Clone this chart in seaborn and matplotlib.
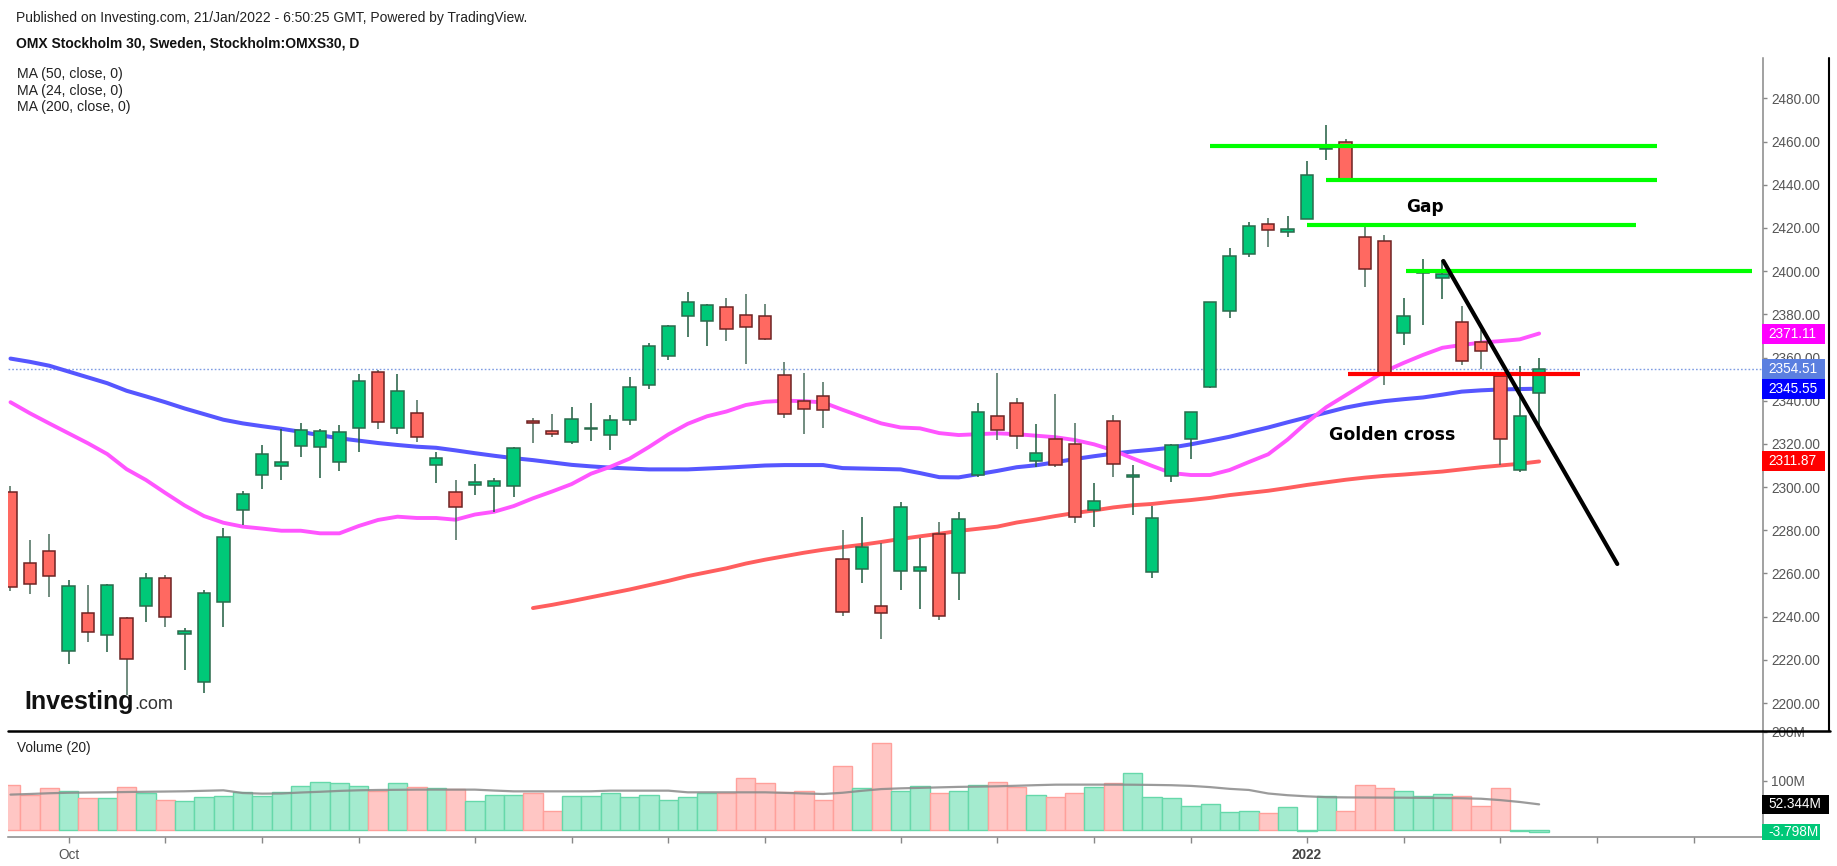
import numpy as np
import matplotlib
matplotlib.use("Agg")
import matplotlib.pyplot as plt
import seaborn as sns
from matplotlib.transforms import blended_transform_factory
from matplotlib.patches import Rectangle
from matplotlib.lines import Line2D

# OMXS30 daily candles, 80 sessions (late Sep 2021 .. 20 Jan 2022)
opens = [2297.7, 2264.7, 2270.6, 2224.0, 2241.6, 2231.7, 2239.3, 2245.0, 2257.8, 2232.1,
         2209.6, 2246.7, 2289.4, 2305.8, 2309.8, 2319.0, 2318.4, 2311.5, 2327.2, 2353.3,
         2327.2, 2334.2, 2310.2, 2297.7, 2300.9, 2300.4, 2300.4, 2330.8, 2326.1, 2320.7,
         2326.8, 2324.3, 2331.1, 2347.3, 2360.7, 2379.2, 2376.9, 2383.2, 2379.8, 2379.2,
         2352.0, 2339.9, 2342.3, 2266.7, 2262.2, 2244.9, 2261.1, 2261.1, 2278.4, 2260.1,
         2305.6, 2332.9, 2338.8, 2312.1, 2322.1, 2319.8, 2289.4, 2330.6, 2304.5, 2260.5,
         2305.1, 2322.4, 2346.2, 2381.5, 2408.1, 2421.9, 2417.9, 2424.3, 2456.3, 2459.6,
         2415.8, 2413.9, 2371.2, 2399.3, 2396.6, 2376.4, 2367.0, 2351.6, 2307.9, 2343.4]
highs = [2300.5, 2275.5, 2278.3, 2256.8, 2254.5, 2255.1, 2240.0, 2260.1, 2259.2, 2234.6,
         2252.2, 2280.9, 2298.4, 2319.5, 2326.7, 2329.5, 2326.7, 2328.6, 2352.4, 2354.2,
         2352.4, 2340.2, 2316.4, 2303.3, 2310.7, 2304.0, 2318.5, 2331.8, 2333.9, 2337.2,
         2338.8, 2333.2, 2351.1, 2366.6, 2375.0, 2390.5, 2384.8, 2387.6, 2389.4, 2384.8,
         2358.1, 2352.7, 2348.8, 2280.1, 2286.3, 2274.0, 2293.3, 2276.3, 2284.0, 2288.6,
         2338.8, 2352.7, 2341.1, 2329.0, 2343.1, 2329.5, 2301.7, 2333.4, 2310.1, 2291.4,
         2319.8, 2334.9, 2385.8, 2410.5, 2422.7, 2424.4, 2425.7, 2451.1, 2467.5, 2461.0,
         2420.6, 2416.7, 2387.4, 2405.4, 2405.1, 2384.0, 2372.7, 2353.0, 2356.1, 2359.9]
lows = [2252.0, 2250.5, 2249.3, 2218.1, 2228.4, 2223.8, 2203.7, 2237.7, 2235.0, 2215.3,
        2204.8, 2235.4, 2282.5, 2299.1, 2303.1, 2314.1, 2304.4, 2307.6, 2316.4, 2326.9,
        2324.6, 2321.0, 2302.0, 2275.5, 2296.4, 2288.6, 2295.6, 2320.6, 2323.0, 2320.0,
        2321.5, 2317.2, 2328.6, 2345.4, 2358.8, 2369.3, 2365.2, 2367.5, 2357.0, 2368.0,
        2332.1, 2324.6, 2327.5, 2240.5, 2255.7, 2229.7, 2252.3, 2243.6, 2238.5, 2247.7,
        2304.8, 2321.8, 2317.6, 2309.2, 2309.4, 2283.5, 2281.4, 2304.8, 2286.9, 2258.1,
        2302.5, 2313.0, 2346.0, 2378.4, 2406.7, 2411.3, 2415.6, 2424.0, 2451.4, 2442.0,
        2392.5, 2347.3, 2365.8, 2374.9, 2387.1, 2356.5, 2354.5, 2310.1, 2307.1, 2328.0]
closes = [2253.6, 2255.3, 2258.7, 2254.4, 2232.8, 2254.8, 2220.6, 2257.8, 2239.7, 2233.4,
          2250.8, 2276.8, 2296.7, 2315.2, 2311.8, 2326.4, 2325.9, 2325.4, 2349.3, 2330.0,
          2344.6, 2323.0, 2313.3, 2290.6, 2302.2, 2303.0, 2317.9, 2329.8, 2324.7, 2331.7,
          2327.3, 2331.2, 2346.2, 2365.3, 2374.6, 2385.5, 2384.5, 2373.4, 2374.0, 2368.7,
          2334.0, 2336.3, 2335.7, 2242.0, 2272.1, 2241.5, 2290.8, 2262.8, 2240.3, 2285.4,
          2334.6, 2326.4, 2323.6, 2315.6, 2310.2, 2286.1, 2293.6, 2310.8, 2305.7, 2285.5,
          2319.5, 2334.6, 2385.5, 2407.1, 2420.9, 2419.2, 2419.6, 2444.6, 2456.8, 2442.6,
          2401.1, 2352.7, 2379.4, 2399.7, 2398.5, 2358.4, 2362.8, 2322.4, 2332.9, 2354.51]

# volume in millions
volumes = [92.6, 72.2, 85.1, 80.3, 64.7, 64.7, 87.1, 74.9, 61.9, 59.2,
           66.7, 68.7, 76.9, 68.7, 76.9, 89.2, 97.3, 95.3, 89.2, 78.9,
           95.3, 87.1, 85.1, 83.0, 59.2, 71.5, 71.5, 74.9, 38.8, 68.7,
           68.7, 74.9, 66.7, 71.5, 61.9, 66.7, 74.9, 74.9, 105.5, 95.3,
           76.9, 79.6, 61.9, 130.0, 85.1, 176.9, 78.9, 89.2, 74.9, 79.6,
           92.6, 97.3, 87.8, 72.2, 66.7, 74.9, 87.1, 95.3, 115.7, 66.7,
           64.7, 49.0, 53.8, 36.1, 39.5, 34.1, 46.3, -1.5, 69.4, 39.5,
           92.6, 85.1, 79.6, 69.4, 72.8, 69.4, 49.0, 85.1, -3.0, -3.798]
vol_ma20 = [72.2, 73.5, 75.0, 76.0, 76.5, 76.9, 77.5, 78.0, 78.5, 79.0,
            80.0, 81.0, 75.5, 74.2, 74.5, 76.5, 78.0, 79.8, 81.0, 81.7,
            82.0, 82.4, 82.4, 82.4, 82.4, 80.5, 78.9, 78.9, 78.9, 78.9,
            79.0, 80.3, 80.3, 80.3, 80.3, 76.9, 76.9, 76.9, 76.9, 76.9,
            75.8, 74.6, 73.5, 76.0, 80.0, 83.5, 85.0, 86.0, 87.0, 88.0,
            88.5, 89.2, 90.3, 91.5, 92.5, 92.6, 92.6, 92.6, 92.4, 92.0,
            91.4, 90.0, 87.5, 84.0, 81.7, 74.5, 71.0, 68.7, 67.0, 66.5,
            66.3, 66.1, 65.9, 65.6, 65.3, 64.8, 63.8, 61.0, 57.2, 52.344]

ma50 = [2359.5, 2358.0, 2356.2, 2353.5, 2350.8, 2348.1, 2344.6, 2342.0, 2339.3, 2336.4,
        2333.8, 2331.2, 2329.5, 2328.2, 2327.0, 2325.6, 2324.0, 2322.6, 2321.5, 2320.4,
        2319.5, 2318.7, 2318.2, 2317.0, 2315.7, 2314.5, 2313.4, 2312.5, 2311.4, 2310.3,
        2309.6, 2309.0, 2308.6, 2308.2, 2308.2, 2308.2, 2308.6, 2309.0, 2309.5, 2310.0,
        2310.2, 2310.2, 2310.2, 2308.8, 2308.6, 2308.4, 2308.2, 2306.5, 2304.6, 2304.5,
        2306.0, 2307.5, 2309.2, 2310.1, 2311.5, 2313.0, 2314.3, 2315.5, 2316.5, 2317.3,
        2318.3, 2319.8, 2321.5, 2323.3, 2325.5, 2327.6, 2330.0, 2332.3, 2334.5, 2336.8,
        2338.5, 2339.8, 2340.7, 2341.5, 2342.8, 2344.2, 2344.8, 2345.2, 2345.4, 2345.55]
ma24 = [2339.3, 2334.2, 2329.5, 2324.9, 2320.3, 2315.3, 2308.3, 2303.3, 2297.3, 2291.5,
        2286.6, 2283.5, 2281.7, 2280.8, 2279.8, 2279.8, 2278.6, 2278.6, 2282.0, 2284.8,
        2286.3, 2285.7, 2285.7, 2284.9, 2287.3, 2288.6, 2291.2, 2294.8, 2298.0, 2301.4,
        2306.2, 2309.4, 2313.2, 2318.6, 2324.4, 2329.3, 2332.8, 2335.0, 2338.0, 2339.5,
        2340.0, 2339.8, 2339.2, 2335.8, 2332.6, 2329.5, 2327.6, 2327.2, 2325.0, 2324.1,
        2324.5, 2324.9, 2324.5, 2323.8, 2323.1, 2321.8, 2319.8, 2317.0, 2313.3, 2309.8,
        2306.5, 2305.6, 2305.6, 2307.9, 2311.6, 2315.2, 2322.0, 2330.0, 2337.0, 2342.5,
        2348.0, 2353.5, 2357.5, 2361.2, 2364.5, 2365.8, 2366.9, 2367.6, 2368.4, 2371.11]
ma200_start = 27
ma200 = [2244.0, 2245.5, 2247.2, 2249.0, 2250.8, 2252.6, 2254.6, 2256.6, 2258.8, 2260.6,
         2262.4, 2264.6, 2266.4, 2268.0, 2269.6, 2271.0, 2272.2, 2273.3, 2274.6, 2276.0,
         2277.2, 2278.4, 2279.7, 2280.7, 2281.7, 2283.6, 2285.0, 2286.6, 2288.0, 2289.2,
         2290.6, 2291.6, 2292.2, 2293.2, 2294.0, 2295.0, 2296.3, 2297.3, 2298.3, 2299.6,
         2301.0, 2302.2, 2303.4, 2304.4, 2305.2, 2305.8, 2306.5, 2307.2, 2308.2, 2309.2,
         2310.0, 2310.8, 2311.87]

# x axis ticks (session index) and the two labelled ones
tick_sessions = [3, 8, 13, 18, 24, 29, 34, 39, 46, 51, 56, 61, 67, 72, 77, 82, 87]
tick_names = {3: "Oct", 67: "2022"}

# hand drawn levels: (from session, to session, price)
gap_lines = [(62.0, 85.1, 2457.7), (68.0, 85.1, 2442.1), (67.0, 84.0, 2421.2), (72.1, 90.0, 2399.9)]
support_line = (69.1, 81.1, 2352.3)
trend_line = ((74.05, 2404.7), (83.04, 2264.4))

W, H = 1837, 866
sns.set_theme(style="white")
plt.rcParams["font.family"] = ["Liberation Sans", "DejaVu Sans"]

fig = plt.figure(figsize=(W / 100, H / 100), dpi=100, facecolor="white")


def fx(px):
    return px / W


def fy(py):
    return 1 - py / H


left, right = 8, 1763
ax = fig.add_axes([fx(left), fy(730.7), fx(right - left), (730.7 - 58) / H])
axv = fig.add_axes([fx(left), fy(837), fx(right - left), (837 - 730.7) / H])

idx = np.arange(len(closes))
o = np.array(opens)
c = np.array(closes)
hi = np.array(highs)
lo = np.array(lows)
up = c >= o

# moving averages
sns.lineplot(x=idx, y=ma50, ax=ax, color="#5656ff", lw=2.9, zorder=2)
sns.lineplot(x=idx, y=ma24, ax=ax, color="#ff55ff", lw=2.8, zorder=2)
sns.lineplot(x=idx[ma200_start:], y=ma200, ax=ax, color="#ff5e5e", lw=2.8, zorder=2)

ax.axhline(closes[-1], color="#7f9de3", lw=1.0, ls=(0, (1.2, 1.5)), zorder=1.5)

# candles
wick_col = np.where(up, "#1f5c40", "#4a6d5d")
ax.vlines(idx, lo, hi, colors=wick_col, lw=1.1, zorder=3)
body_h = np.maximum(np.abs(c - o), 0.7)
ax.bar(idx, body_h, bottom=np.minimum(o, c), width=0.64,
       color=np.where(up, "#00c878", "#ff6961"),
       edgecolor=np.where(up, "#2a6b4c", "#6e2323"), lw=1.1, zorder=4)

# drawings
for x0, x1, lvl in gap_lines:
    ax.plot([x0, x1], [lvl, lvl], color="#00ff00", lw=3.0, solid_capstyle="butt", zorder=6)
ax.plot(support_line[:2], [support_line[2]] * 2, color="#ff0000", lw=3.0,
        solid_capstyle="butt", zorder=6)
(tx0, ty0), (tx1, ty1) = trend_line
ax.plot([tx0, tx1], [ty0, ty1], color="black", lw=3.0, zorder=7)

ax.text(73.1, 2429.8, "Gap", ha="center", va="center", fontsize=12.2,
        fontweight="bold", family="DejaVu Sans", color="black", zorder=8)
ax.text(71.4, 2324.1, "Golden cross", ha="center", va="center", fontsize=12.5,
        fontweight="bold", family="DejaVu Sans", color="black", zorder=8)

ax.set_xlim(-0.129, 90.57)
ax.set_ylim(2187.22, 2498.66)
ax.set_xticks([])
ax.set_xlabel("")
ax.set_ylabel("")
ax.yaxis.tick_right()
ax.set_yticks(np.arange(2200, 2481, 20))
ax.yaxis.set_major_formatter(matplotlib.ticker.FormatStrFormatter("%.2f"))
ax.tick_params(axis="y", length=3, width=1, color="#888888", labelcolor="#555555",
               labelsize=9.8, pad=3)
for s in ["top", "left", "bottom"]:
    ax.spines[s].set_visible(False)
ax.spines["right"].set_color("#888888")
ax.spines["right"].set_linewidth(1.1)

# volume
vcol = np.where(up, "#a4ebcf", "#ffc6c4")
vedge = np.where(up, "#66d8aa", "#ffa09b")
axv.bar(idx, volumes, width=1.0, color=vcol, edgecolor=vedge, lw=1.0, zorder=2)
sns.lineplot(x=idx, y=vol_ma20, ax=axv, color="#8a8a8a", lw=1.6, alpha=0.85, zorder=3)
axv.set_xlim(-0.129, 90.57)
axv.set_ylim(-14.29, 202.65)
axv.set_xlabel("")
axv.set_ylabel("")
axv.yaxis.tick_right()
axv.set_yticks([100, 200])
axv.set_yticklabels(["100M", "200M"])
axv.tick_params(axis="y", length=3, width=1, color="#888888", labelcolor="#555555",
                labelsize=9.8, pad=3)
axv.set_xticks(tick_sessions)
axv.set_xticklabels([tick_names.get(t, "") for t in tick_sessions])
axv.tick_params(axis="x", length=4, width=1, color="#888888", labelcolor="#555555",
                labelsize=9.8, pad=4, bottom=True)
for lab in axv.get_xticklabels():
    if lab.get_text() == "2022":
        lab.set_fontweight("bold")
        lab.set_color("#444444")
for s in ["top", "left"]:
    axv.spines[s].set_visible(False)
for s in ["right", "bottom"]:
    axv.spines[s].set_color("#888888")
    axv.spines[s].set_linewidth(1.1)


# value tags on the right scale
def tag(axis, value, text, face, h_px, w_px=63):
    tr = blended_transform_factory(axis.transAxes, axis.transData)
    unit = (axis.get_ylim()[1] - axis.get_ylim()[0]) / (axis.bbox.height)
    axw = axis.bbox.width
    axis.add_patch(Rectangle((1.0 - 1 / axw, value - h_px / 2 * unit), w_px / axw, h_px * unit,
                             transform=tr, facecolor=face, edgecolor="none",
                             clip_on=False, zorder=9))
    axis.text(1.0 + 5 / axw, value, text, transform=tr, ha="left", va="center",
              color="white", fontsize=9.8, zorder=10, clip_on=False)


tag(ax, ma24[-1], "%.2f" % ma24[-1], "#ff00ff", 20)
tag(ax, closes[-1], "%.2f" % closes[-1], "#5b7fe0", 20)
tag(ax, ma50[-1], "%.2f" % ma50[-1], "#0000ff", 20)
tag(ax, ma200[-1], "%.2f" % ma200[-1], "#ff0000", 20)
tag(axv, vol_ma20[-1], "%.3fM" % vol_ma20[-1], "black", 19, 67)
tag(axv, volumes[-1], "%.3fM" % volumes[-1], "#00c878", 16, 58)

# frame lines
fig.add_artist(Line2D([fx(8), fx(1830)], [fy(730.7), fy(730.7)], color="black", lw=1.8))
fig.add_artist(Line2D([fx(1829), fx(1829)], [fy(58), fy(730.7)], color="black", lw=1.5))

# header and legend text
fig.text(fx(16), fy(18), "Published on Investing.com, 21/Jan/2022 - 6:50:25 GMT, Powered by TradingView.",
         fontsize=10.0, color="#222222", va="center")
fig.text(fx(16), fy(43), "OMX Stockholm 30, Sweden, Stockholm:OMXS30, D",
         fontsize=10.0, fontweight="bold", color="#111111", va="center")
for i, lbl in enumerate(["MA (50, close, 0)", "MA (24, close, 0)", "MA (200, close, 0)"]):
    fig.text(fx(17), fy(74 + 16.7 * i), lbl, fontsize=10.2, color="#222222", va="center")
fig.text(fx(17), fy(748), "Volume (20)", fontsize=9.8, color="#222222", va="center")

# watermark, ".com" placed right after the measured "Investing"
logo = fig.text(fx(24), fy(709), "Investing", fontsize=18, fontweight="bold",
                color="#111111", va="baseline")
fig.canvas.draw()
ext = logo.get_window_extent()
fig.text(ext.x1 / W + 1 / W, fy(709), ".com", fontsize=13, color="#333333", va="baseline")

fig.savefig("out.png", dpi=100, facecolor="white")
